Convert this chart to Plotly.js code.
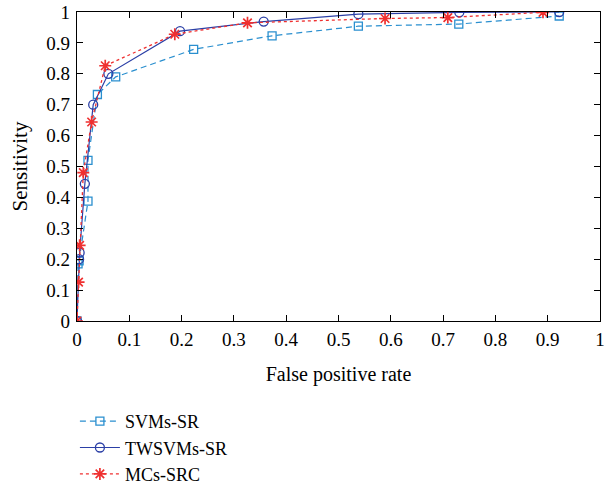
<!DOCTYPE html>
<html><head><meta charset="utf-8">
<script src="https://cdn.plot.ly/plotly-3.0.1.min.js"></script>
<style>html,body{margin:0;padding:0;background:#fff}</style>
</head><body><div id="plot" style="width:605px;height:484px"></div>
<script>
const svmX = [0, 0.002, 0.004, 0.021, 0.021, 0.039, 0.074, 0.223, 0.373, 0.538, 0.73, 0.922];
const svmY = [0, 0.185, 0.195, 0.388, 0.52, 0.733, 0.79, 0.879, 0.923, 0.954, 0.961, 0.987];
const twX = [0, 0.004, 0.005, 0.015, 0.031, 0.06, 0.197, 0.357, 0.538, 0.731, 0.922];
const twY = [0, 0.2, 0.221, 0.444, 0.70, 0.80, 0.938, 0.969, 0.993, 0.999, 1.0];
const mcX = [0, 0.003, 0.005, 0.012, 0.028, 0.054, 0.187, 0.326, 0.589, 0.709, 0.891];
const mcY = [0, 0.126, 0.245, 0.48, 0.644, 0.826, 0.928, 0.965, 0.979, 0.982, 0.999];
const names = ['SVMs-SR', 'TWSVMs-SR', 'MCs-SRC'];
const tickVals = [0,0.1,0.2,0.3,0.4,0.5,0.6,0.7,0.8,0.9,1];
const tickText = ['0','0.1','0.2','0.3','0.4','0.5','0.6','0.7','0.8','0.9','1'];

const FONT = 'Liberation Serif, serif';
const traces = [
  {x: svmX, y: svmY, name: names[0], mode: 'lines+markers',
   line: {color: '#2a8fcf', width: 1.2, dash: '6px,4px'},
   marker: {symbol: 'square-open', size: 8, color: '#2a8fcf', line: {width: 1.3}}},
  {x: twX, y: twY, name: names[1], mode: 'lines+markers',
   line: {color: '#2b3fa6', width: 1.2},
   marker: {symbol: 'circle-open', size: 9, color: '#2b3fa6', line: {width: 1.3}}},
  {x: mcX, y: mcY, name: names[2], mode: 'lines+markers',
   line: {color: '#ef3030', width: 1.3, dash: 'dot'},
   marker: {symbol: 'asterisk-open', size: 10, color: '#ef3030', line: {width: 1.7, color: '#ef3030'}}}
];

const axisCommon = {
  range: [0, 1], tickvals: tickVals, ticktext: tickText,
  ticks: 'inside', ticklen: 6, tickcolor: '#000', tickwidth: 1,
  showline: true, linecolor: '#000', linewidth: 1.3, mirror: 'ticks',
  showgrid: false, zeroline: false, ticklabeloverflow: 'allow', automargin: false,
  tickfont: {family: FONT, size: 19, color: '#000'}
};

const layout = {
  width: 605, height: 484,
  margin: {l: 77, r: 5, t: 12, b: 163, autoexpand: false},
  paper_bgcolor: '#fff', plot_bgcolor: '#fff',
  font: {family: FONT, color: '#000'},
  xaxis: Object.assign({}, axisCommon, {
    ticklabelstandoff: 1,
    title: {text: 'False positive rate', font: {size: 20, family: FONT}, standoff: 18}
  }),
  yaxis: Object.assign({}, axisCommon, {
    ticklabelstandoff: 2,
    title: {text: 'Sensitivity', font: {size: 21, family: FONT}, standoff: 12}
  }),
  showlegend: true,
  legend: {x: -0.004, y: -0.265, xanchor: 'left', yanchor: 'top', bgcolor: 'rgba(0,0,0,0)',
    font: {size: 18, family: FONT}, itemwidth: 40, tracegroupgap: 0}
};

Plotly.newPlot('plot', traces, layout, {displayModeBar: false, staticPlot: true});
</script></body></html>
